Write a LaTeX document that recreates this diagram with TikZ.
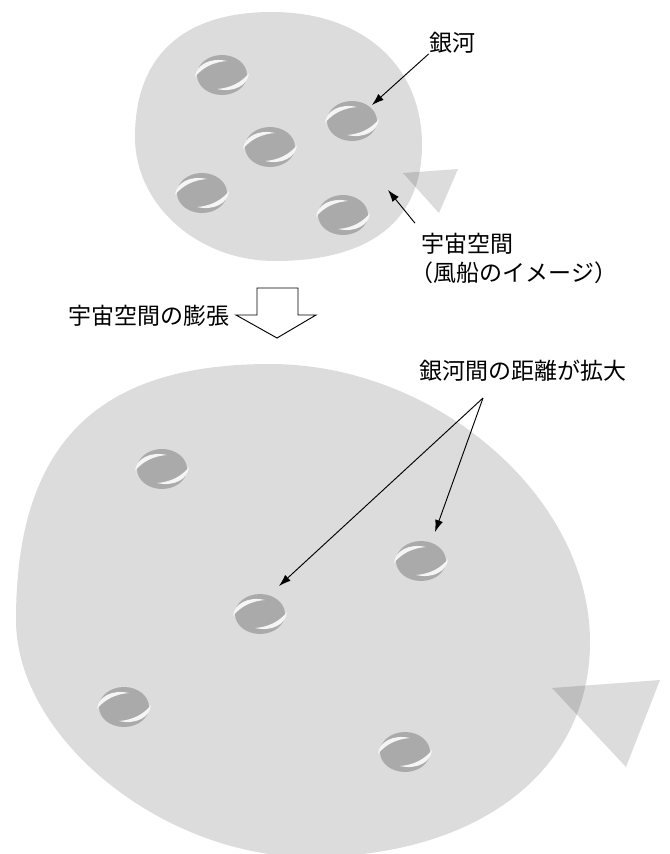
\documentclass[tikz,border=0pt]{standalone}
\usepackage{fontspec}
\setmainfont{Noto Sans CJK JP}
\usetikzlibrary{arrows.meta}

\definecolor{spacegray}{RGB}{220,220,220}
\definecolor{knotdark}{RGB}{190,190,190}
\definecolor{galgray}{RGB}{170,170,170}
\definecolor{gapwhite}{RGB}{245,245,245}

% outlines of the two balloons (pixel-like units, y grows downwards)
\newcommand\smallBalloon{(272,12) .. controls (362,12) and (422,65) .. (422,145)
  .. controls (422,220) and (371,261) .. (275,261)
  .. controls (198,261) and (135,205) .. (135,137)
  .. controls (135,56) and (183,12) .. cycle}
\newcommand\bigBalloon{(270,364) .. controls (436,364) and (590,497) .. (590,642)
  .. controls (590,771) and (478,857) .. (310,857)
  .. controls (163,857) and (16,738) .. (16,620)
  .. controls (16,446) and (95,364) .. cycle}
\newcommand\smallKnot{(403,173) -- (458,169) -- (439,213) -- cycle}
\newcommand\bigKnot{(552,688) -- (660,680) -- (626,767) -- cycle}

\begin{document}
\begin{tikzpicture}[x=0.75pt,y=-0.75pt,
  lbl/.style={inner sep=0pt, font=\fontsize{17.25pt}{21.75pt}\selectfont},
  pointer/.style={line width=0.7pt, -{Latex[length=9pt,width=6pt]}},
  galaxy/.pic={
    \fill[galgray] (0,0) ellipse [x radius=25, y radius=20];
    % the two spiral gaps between core and arms
    \fill[gapwhite] (-27,2) .. controls (-26,-10) and (-12,-18) .. (5,-14)
                 .. controls (-9,-13) and (-20,-7) .. cycle;
    \fill[gapwhite] (27,-2) .. controls (26,10) and (12,18) .. (-5,14)
                 .. controls (9,13) and (20,7) .. cycle;
  }]
\path[use as bounding box] (0,0) rectangle (670,854);

% ---- balloon before expansion ----
\fill[spacegray] \smallBalloon;
\fill[spacegray] \smallKnot;
\begin{scope}
  \clip \smallBalloon;
  \fill[knotdark] \smallKnot;
\end{scope}

\coordinate (g1) at (222,75);
\coordinate (g2) at (352,121);
\coordinate (g3) at (270,147);
\coordinate (g4) at (202,193);
\coordinate (g5) at (343,215);
\foreach \g in {g1,g2,g3,g4,g5} \pic at (\g) {galaxy};

\node[lbl] (ginga) at (452,43) {銀河};
\coordinate (gingaTip) at (372,105);
\draw[pointer] (ginga.south west) -- (gingaTip);

\node[lbl, align=left, anchor=west] (space) at (421,258)
  {宇宙空間\\\kern-.45em（風船のイメージ）};
\coordinate (spaceTip) at (388,190);
\draw[pointer] ([xshift=-4.5pt,yshift=7pt]space.north west) -- (spaceTip);

% ---- expansion ----
\node[lbl] (expansion) at (148.5,316) {宇宙空間の膨張};
\draw[line width=0.7pt, fill=white]
  (257,288) -- (298,288) -- (298,315) -- (316,315) -- (277,338)
  -- (236,315) -- (257,315) -- cycle;

% ---- balloon after expansion ----
\fill[spacegray] \bigBalloon;
\fill[spacegray] \bigKnot;
\begin{scope}
  \clip \bigBalloon;
  \fill[knotdark] \bigKnot;
\end{scope}

\coordinate (b1) at (162,469);
\coordinate (b2) at (421,561);
\coordinate (b3) at (260,614);
\coordinate (b4) at (124,707);
\coordinate (b5) at (405,752);
\foreach \g in {b1,b2,b3,b4,b5} \pic at (\g) {galaxy};

\node[lbl] (distance) at (523,371) {銀河間の距離が拡大};
\coordinate (fork) at (483,398);
\coordinate (tipB3) at (279,586);
\coordinate (tipB2) at (435,532);
\draw[pointer] (fork) -- (tipB3);
\draw[pointer] (fork) -- (tipB2);
\end{tikzpicture}
\end{document}
